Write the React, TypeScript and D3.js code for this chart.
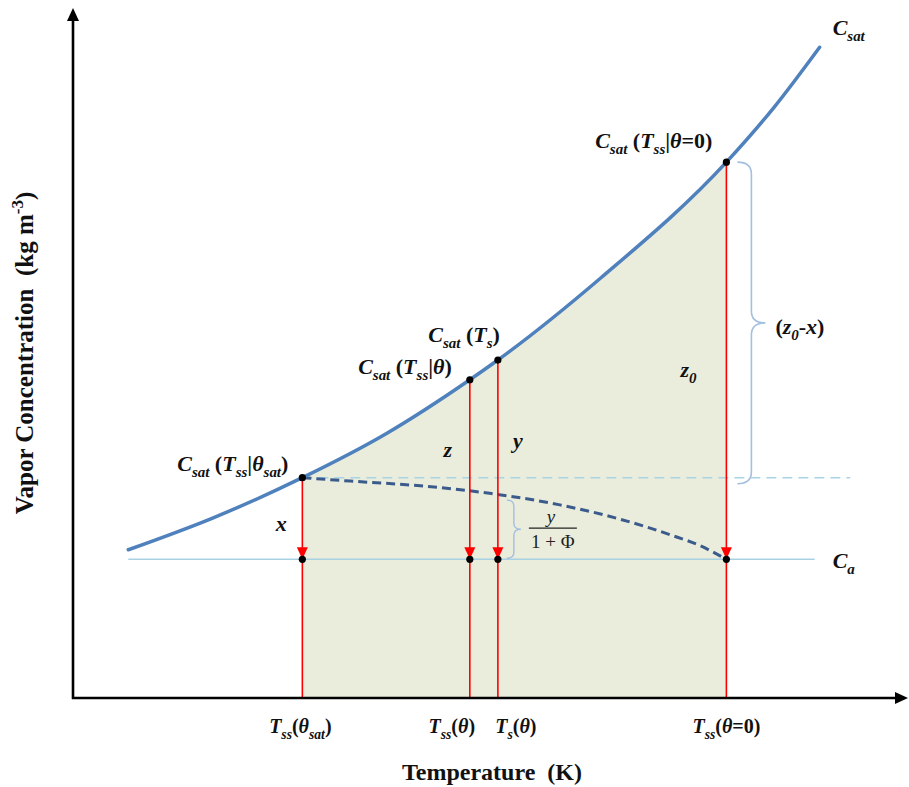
import React from "react";
import * as d3 from "d3";

const W = 909;
const H = 787;

// Saturation vapour concentration curve C_sat(T)
const satT = [6.7, 17, 27.8, 38, 48.1, 51.5, 64, 79.2, 85, 90.5];
const satC = [21.8, 26.5, 32.4, 38.9, 46.8, 49.7, 61.8, 78.8, 86.9, 95.7];

// Surface vapour concentration for a partially saturated surface
const thetaT = [27.8, 33.6, 42.1, 50.5, 59.0, 66.3, 72.4, 76.0, 79.2];
const thetaC = [32.4, 31.9, 31.2, 30.1, 28.4, 26.3, 24.0, 22.4, 20.4];

// Ambient vapour concentration
const ambientC = 20.4;
const ambientRange = [6.7, 89.9];

// Marked temperatures: Tss(θsat), Tss(θ), Ts(θ), Tss(θ=0)
const markT = [27.8, 48.1, 51.5, 79.2];
const markC = [32.4, 46.8, 49.7, 78.8];

// Level of C_sat at Tss(θsat), extended to the right
const satLevelEnd = 94.2;
// Top of the y/(1+Φ) span at Ts(θ)
const phiTop = 29.1;

type Seg = { t: string; sub?: boolean; sup?: boolean; i?: boolean };

const SERIF = "'Liberation Serif', 'Times New Roman', serif";

// Tick labels under the temperature axis
const tickLabels: Seg[][] = [
  [{ t: "T", i: true }, { t: "ss", sub: true, i: true }, { t: "(" }, { t: "θ", i: true }, { t: "sat", sub: true, i: true }, { t: ")" }],
  [{ t: "T", i: true }, { t: "ss", sub: true, i: true }, { t: "(" }, { t: "θ", i: true }, { t: ")" }],
  [{ t: "T", i: true }, { t: "s", sub: true, i: true }, { t: "(" }, { t: "θ", i: true }, { t: ")" }],
  [{ t: "T", i: true }, { t: "ss", sub: true, i: true }, { t: "(" }, { t: "θ", i: true }, { t: "=0)" }],
];
const tickDx = [-2, -18, 18, 0];

// Labels of the points on the saturation curve
const pointLabels: Seg[][] = [
  [{ t: "C", i: true }, { t: "sat", sub: true, i: true }, { t: " (" }, { t: "T", i: true }, { t: "ss", sub: true, i: true }, { t: "|" }, { t: "θ", i: true }, { t: "sat", sub: true, i: true }, { t: ")" }],
  [{ t: "C", i: true }, { t: "sat", sub: true, i: true }, { t: " (" }, { t: "T", i: true }, { t: "ss", sub: true, i: true }, { t: "|" }, { t: "θ", i: true }, { t: ")" }],
  [{ t: "C", i: true }, { t: "sat", sub: true, i: true }, { t: " (" }, { t: "T", i: true }, { t: "s", sub: true, i: true }, { t: ")" }],
  [{ t: "C", i: true }, { t: "sat", sub: true, i: true }, { t: " (" }, { t: "T", i: true }, { t: "ss", sub: true, i: true }, { t: "|" }, { t: "θ", i: true }, { t: "=0)" }],
];
const pointDx = [-14, -18, 2, -14];
const pointDy = [-7, -6, -18, -14];

// Span labels next to the red drops
const spanLabels: Seg[][] = [
  [{ t: "x", i: true }],
  [{ t: "z", i: true }],
  [{ t: "y", i: true }],
  [{ t: "z", i: true }, { t: "0", sub: true, i: true }],
];
const spanDx = [-21, -22, 20, -38];
const spanC = [24.5, 35.5, 36.7, 47.2];

function Rich({
  x,
  y,
  segs,
  size,
  anchor = "start",
  transform,
  weight = "bold",
  family = SERIF,
  fill = "#111",
}: {
  x: number;
  y: number;
  segs: Seg[];
  size: number;
  anchor?: string;
  transform?: string;
  weight?: string;
  family?: string;
  fill?: string;
}) {
  let shift = 0;
  const kids = segs.map((s, k) => {
    const target = s.sub ? size * 0.28 : s.sup ? -size * 0.4 : 0;
    const dy = target - shift;
    shift = target;
    return (
      <tspan
        key={k}
        dy={dy !== 0 ? dy : undefined}
        fontSize={s.sub || s.sup ? size * 0.68 : size}
        fontStyle={s.i ? "italic" : "normal"}
      >
        {s.t}
      </tspan>
    );
  });
  return (
    <text
      x={x}
      y={y}
      textAnchor={anchor}
      transform={transform}
      fontFamily={family}
      fontWeight={weight}
      fontSize={size}
      fill={fill}
      style={{ whiteSpace: "pre" }}
    >
      {kids}
    </text>
  );
}

// Vertical curly brace opening to the left, tip pointing right
function bracePath(x0: number, y0: number, y1: number, w: number, r: number) {
  const ym = (y0 + y1) / 2;
  return [
    `M${x0},${y0}`,
    `Q${x0 + w},${y0} ${x0 + w},${y0 + r}`,
    `L${x0 + w},${ym - r}`,
    `Q${x0 + w},${ym} ${x0 + 2 * w},${ym}`,
    `Q${x0 + w},${ym} ${x0 + w},${ym + r}`,
    `L${x0 + w},${y1 - r}`,
    `Q${x0 + w},${y1} ${x0},${y1}`,
  ].join(" ");
}

export default function App() {
  const x = d3.scaleLinear().domain([0, 100]).range([73, 898]);
  const y = d3.scaleLinear().domain([0, 100]).range([698, 18]);

  const sat = d3.zip(satT, satC) as [number, number][];
  const theta = d3.zip(thetaT, thetaC) as [number, number][];

  const line = d3
    .line<[number, number]>()
    .x((d) => x(d[0]))
    .y((d) => y(d[1]))
    .curve(d3.curveMonotoneX);
  const area = d3
    .area<[number, number]>()
    .x((d) => x(d[0]))
    .y0(y(0))
    .y1((d) => y(d[1]))
    .curve(d3.curveMonotoneX);

  const axisX0 = x(0);
  const axisY0 = y(0);
  const xEnd = 908;
  const yTop = 8;

  const first = markT[0];
  const last = markT[markT.length - 1];
  const yCa = y(ambientC);

  return (
    <svg width={W} height={H} style={{ display: "block", position: "absolute", left: 0, top: 0, background: "#fff" }}>
      <defs>
        <clipPath id="shade">
          <rect x={x(first)} y={0} width={x(last) - x(first)} height={H} />
        </clipPath>
      </defs>

      {/* shaded region under C_sat */}
      <path d={area(sat) || ""} fill="#ebeddc" clipPath="url(#shade)" />

      {/* ambient concentration */}
      <line x1={x(ambientRange[0])} x2={x(ambientRange[1])} y1={yCa} y2={yCa} stroke="#a8d2e2" strokeWidth={1.6} />

      {/* C_sat level at Tss(θsat) */}
      <line
        x1={x(first)}
        x2={x(satLevelEnd)}
        y1={y(markC[0])}
        y2={y(markC[0])}
        stroke="#a8d4e4"
        strokeWidth={1.6}
        strokeDasharray="10,6"
      />

      {/* surface concentration curve */}
      <path d={line(theta) || ""} fill="none" stroke="#3b5b8c" strokeWidth={3} strokeDasharray="9,5" />

      {/* red drops */}
      {markT.map((t, k) => (
        <g key={k}>
          <line x1={x(t)} x2={x(t)} y1={y(markC[k])} y2={axisY0} stroke="#ff0000" strokeWidth={1.6} />
          <path
            d={`M${x(t) - 5.5},${yCa - 12} L${x(t) + 5.5},${yCa - 12} L${x(t)},${yCa} Z`}
            fill="#ff0000"
          />
        </g>
      ))}

      {/* saturation curve */}
      <path d={line(sat) || ""} fill="none" stroke="#4f81bd" strokeWidth={3.5} strokeLinecap="round" />

      {/* points */}
      {markT.map((t, k) => (
        <g key={k}>
          <circle cx={x(t)} cy={y(markC[k])} r={3.6} fill="#000" />
          <circle cx={x(t)} cy={yCa} r={3.6} fill="#000" />
        </g>
      ))}

      {/* axes */}
      <line x1={axisX0} x2={axisX0} y1={axisY0 + 1} y2={yTop + 10} stroke="#000" strokeWidth={2.6} />
      <path d={`M${axisX0 - 6},${yTop + 13} L${axisX0 + 6},${yTop + 13} L${axisX0},${yTop} Z`} fill="#000" />
      <line x1={axisX0 - 1} x2={xEnd - 10} y1={axisY0} y2={axisY0} stroke="#000" strokeWidth={2.6} />
      <path d={`M${xEnd - 13},${axisY0 - 6} L${xEnd - 13},${axisY0 + 6} L${xEnd},${axisY0} Z`} fill="#000" />

      {/* braces */}
      <path
        d={bracePath(x(last) + 11, y(markC[3]), y(markC[0]) + 6, 14, 12)}
        fill="none"
        stroke="#a4bfe0"
        strokeWidth={1.6}
      />
      <path
        d={bracePath(x(markT[2]) + 9, y(phiTop), yCa - 1, 7, 6)}
        fill="none"
        stroke="#a4bfe0"
        strokeWidth={1.4}
      />

      {/* point labels */}
      {pointLabels.map((segs, k) => (
        <Rich
          key={k}
          x={x(markT[k]) + pointDx[k]}
          y={y(markC[k]) + pointDy[k]}
          segs={segs}
          size={22}
          anchor="end"
        />
      ))}

      {/* span labels */}
      {spanLabels.map((segs, k) => (
        <Rich key={k} x={x(markT[k]) + spanDx[k]} y={y(spanC[k])} segs={segs} size={22} anchor="middle" />
      ))}

      <Rich
        x={x(last) + 49}
        y={(y(markC[3]) + y(markC[0])) / 2 + 14}
        segs={[{ t: "(" }, { t: "z", i: true }, { t: "0", sub: true, i: true }, { t: "-" }, { t: "x", i: true }, { t: ")" }]}
        size={22}
      />

      {/* y / (1 + Φ) */}
      <text x={x(markT[2]) + 53} y={y(phiTop) + 23} textAnchor="middle" fontFamily={SERIF} fontStyle="italic" fontSize={19} fill="#222">
        y
      </text>
      <line x1={x(markT[2]) + 31} x2={x(markT[2]) + 79} y1={y(phiTop) + 28} y2={y(phiTop) + 28} stroke="#222" strokeWidth={1.2} />
      <text x={x(markT[2]) + 55} y={y(phiTop) + 48} textAnchor="middle" fontFamily={SERIF} fontSize={19} fill="#222">
        1 + Φ
      </text>

      {/* curve end labels */}
      <Rich x={x(satT[satT.length - 1]) + 13} y={35} segs={[{ t: "C", i: true }, { t: "sat", sub: true, i: true }]} size={22} />
      <Rich x={x(ambientRange[1]) + 18} y={yCa + 9} segs={[{ t: "C", i: true }, { t: "a", sub: true, i: true }]} size={22} />

      {/* tick labels */}
      {tickLabels.map((segs, k) => (
        <Rich key={k} x={x(markT[k]) + tickDx[k]} y={733} segs={segs} size={20} anchor="middle" />
      ))}

      {/* axis titles */}
      <Rich x={492} y={780} segs={[{ t: "Temperature  (K)" }]} size={24} anchor="middle" />
      <Rich
        x={0}
        y={0}
        transform={`translate(33,353) rotate(-90)`}
        segs={[{ t: "Vapor Concentration  (kg m" }, { t: "-3", sup: true }, { t: ")" }]}
        size={25}
        anchor="middle"
      />
    </svg>
  );
}
